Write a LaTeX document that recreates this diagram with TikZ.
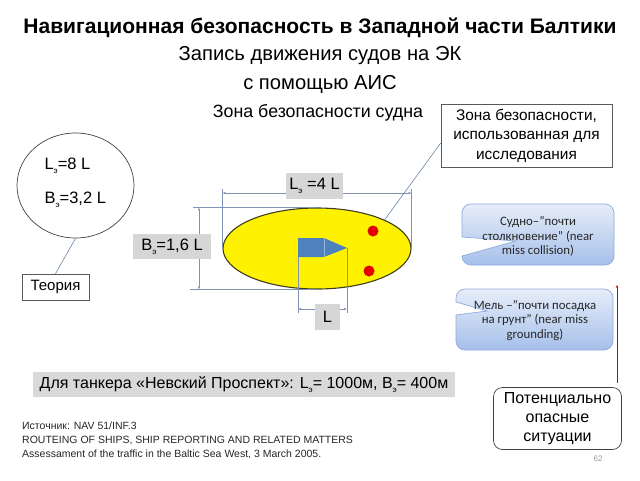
\documentclass[tikz,border=0pt]{standalone}
\usepackage{fontspec}
\setmainfont{Liberation Sans}
\newfontfamily\calib{Carlito}
\usetikzlibrary{arrows.meta,shapes.geometric,calc}
\definecolor{dimc}{HTML}{8092B2}
\definecolor{shipc}{HTML}{4F81BD}
\definecolor{ellc}{HTML}{3F3F1F}
\definecolor{leadc}{HTML}{6A84A8}
\definecolor{cotop}{HTML}{E6EDF9}
\definecolor{cobot}{HTML}{A6C0EA}
\definecolor{coedge}{HTML}{8FAADC}
\newcommand{\sube}{\raisebox{-0.45ex}{\fontsize{8}{8}\selectfont э}}
\tikzset{
  dimext/.style={draw=dimc, line width=0.5pt},
  dimarrow/.style={draw=dimc, line width=0.5pt, {Latex[length=3pt,width=2.4pt]}-{Latex[length=3pt,width=2.4pt]}},
  dimlabel/.style={fill=black!16, inner sep=0pt, font=\fontsize{16.5}{16.5}\selectfont},
  leader/.style={draw=leadc, line width=0.6pt},
  callout/.style={draw=coedge, line width=0.7pt, top color=cotop, bottom color=cobot},
  cotext/.style={font=\calib\fontsize{12.8}{14.5}\selectfont, align=center, text=black!85},
  plainbox/.style={draw=black!65, line width=0.7pt, fill=white, inner sep=0pt, align=center}
}
\begin{document}
\begin{tikzpicture}[x=1pt,y=-1pt]
\useasboundingbox (0,0) rectangle (640,480);
% titles
\node[font=\bfseries\fontsize{21}{24}\selectfont] (t1) at (320,28) {Навигационная безопасность в Западной части Балтики};
\node[font=\fontsize{20.2}{22}\selectfont] (t2) at (320,56) {Запись движения судов на ЭК};
\node[font=\fontsize{20.2}{22}\selectfont] (t3) at (320,84) {с помощью АИС};
\node[font=\fontsize{17.8}{18}\selectfont] (t4) at (318,113) {Зона безопасности судна};
% research zone box
\node[plainbox, minimum width=171pt, minimum height=63pt, font=\fontsize{15.4}{19.5}\selectfont] (zb) at (526.5,135.5) {Зона безопасности,\\использованная для\\исследования};
% theory circle
\node[draw=black!75, line width=0.7pt, ellipse, minimum width=117pt, minimum height=105pt, inner sep=0pt] (circ) at (75.5,185.5) {};
\node[anchor=west, font=\fontsize{16.5}{16.5}\selectfont] (c8) at (41,166) {L\sube=8 L};
\node[anchor=west, font=\fontsize{16.5}{16.5}\selectfont] (c32) at (41,200) {B\sube=3,2 L};
\node[plainbox, minimum width=67pt, minimum height=26pt, font=\fontsize{15}{15}\selectfont] (teo) at (55.5,287) {Теория};
\draw[leader] (circ.south) -- (teo.north);
% safety ellipse
\node[draw=ellc, line width=1.1pt, fill=yellow, ellipse, minimum width=188pt, minimum height=81pt, inner sep=0pt] (ell) at (317,248.5) {};
\draw[leader] ($(zb.north west)!0.62!(zb.south west)$) -- (ell.23);
% ship
\fill[shipc] (298,238) -- (324,238) -- (347,248) -- (324,257) -- (298,257) -- cycle;
\draw[shipc!60!white, line width=0.5pt] (324,238) -- (324,257);
\coordinate (sbl) at (298,257);
\coordinate (stip) at (347,248);
% red dots
\fill[red!90!black] (373,231) circle[radius=5.5];
\fill[red!90!black] (369,271) circle[radius=5.5];
% top dimension
\draw[dimext] (ell.west) -- ++(0,-60);
\draw[dimext] (ell.east) -- ++(0,-60);
\draw[dimarrow] ($(ell.west)+(0,-55.5)$) -- ($(ell.east)+(0,-55.5)$);
\node[dimlabel, minimum width=57pt, minimum height=26pt] (lab4) at (314.5,186) {L\sube\ =4 L};
% left dimension
\draw[dimext] (ell.north) -- ++(-124,0);
\draw[dimext] (ell.south) -- ++(-127,0);
\draw[dimarrow] ($(ell.north)+(-118,0)$) -- ($(ell.south)+(-118,0)$);
\node[dimlabel, minimum width=78pt, minimum height=25pt] (lab16) at (172,246.5) {B\sube=1,6 L};
% bottom dimension
\draw[dimext] (sbl) -- ++(0,56);
\draw[dimext] (stip) -- ++(0,65);
\draw[dimarrow] ($(sbl)+(0,52)$) -- ($(stip |- sbl)+(0,52)$);
\node[dimlabel, minimum width=25pt, minimum height=26pt] (labL) at (327.5,317) {L};
% callouts
\path[callout] (462,237) -- (462,213) arc[start angle=180,end angle=270,radius=9] -- (605,204)
  arc[start angle=270,end angle=360,radius=9] -- (614,256) arc[start angle=0,end angle=90,radius=9]
  -- (471,265) arc[start angle=90,end angle=180,radius=9] -- (462,256) -- (516,241) -- cycle;
\node[cotext] (co1) at (538,236.5) {Судно–”почти\\столкновение” (near\\miss collision)};
\path[callout] (456,302) -- (456,298) arc[start angle=180,end angle=270,radius=9] -- (604,289)
  arc[start angle=270,end angle=360,radius=9] -- (613,341) arc[start angle=0,end angle=90,radius=9]
  -- (465,350) arc[start angle=90,end angle=180,radius=9] -- (456,315) -- (487,311) -- cycle;
\node[cotext] (co2) at (535,320.5) {Мель –”почти посадка\\на грунт” (near miss\\grounding)};
% red arrow line
\coordinate (rb) at (617,383);
\coordinate (rt) at (617,285);
\draw[red!80!black, line width=0.6pt, -{Stealth[length=3pt,width=2.5pt]}] (rb) -- (rt);
% tanker box
\node[fill=black!15, minimum width=422pt, minimum height=25pt, inner sep=0pt, font=\fontsize{16}{16}\selectfont] (tank) at (244,384.5) {Для танкера «Невский Проспект»: L\sube= 1000м, B\sube= 400м};
% source
\node[anchor=north west, align=left, inner sep=0pt, font=\fontsize{10.5}{13.8}\selectfont, text=black!85] (src) at (22,422) {Источник: NAV 51/INF.3\\ROUTEING OF SHIPS, SHIP REPORTING AND RELATED MATTERS\\Assessament of the traffic in the Baltic Sea West, 3 March 2005.};
% potentially dangerous
\node[draw=black!75, line width=0.7pt, rounded corners=9pt, minimum width=128pt, minimum height=62pt, inner sep=0pt, align=center, font=\fontsize{16}{19}\selectfont] (pot) at (557.5,418.5) {Потенциально\\опасные\\ситуации};
\node[font=\fontsize{8}{8}\selectfont, text=black!40] (pg) at (598,459) {62};
\end{tikzpicture}
\end{document}
